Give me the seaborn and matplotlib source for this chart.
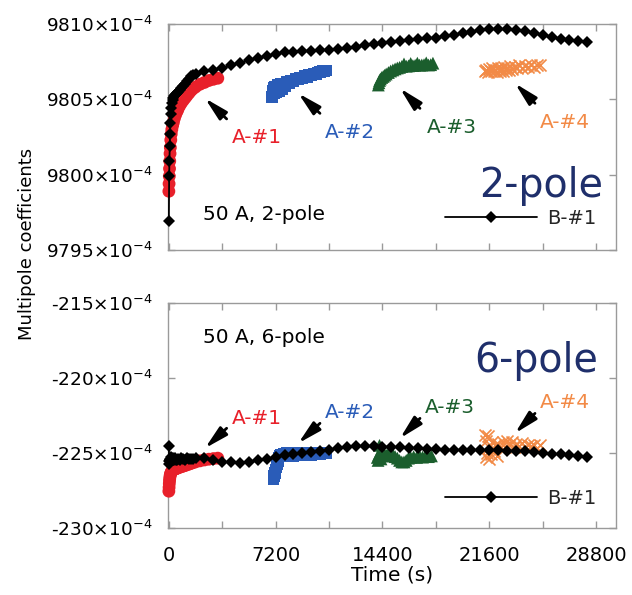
import matplotlib
matplotlib.use("Agg")
import matplotlib.pyplot as plt
import seaborn as sns
from matplotlib.ticker import FixedLocator, FuncFormatter

# ---------------------------------------------------------------- data
# time in seconds, coefficients in units of 1e-4

# reference magnet B-#1, long run
b1_time = [0, 20, 40, 60, 80, 100, 130, 160, 200, 250, 300, 360, 420, 480, 540,
           600, 720, 840, 960, 1080, 1200, 1350, 1500, 1650, 1800, 2400, 3000,
           3600, 4200, 4800, 5400, 6000, 6600, 7200, 7800, 8400, 9000, 9600,
           10200, 10800, 11400, 12000, 12600, 13200, 13800, 14400, 15000,
           15600, 16200, 16800, 17400, 18000, 18600, 19200, 19800, 20400,
           21000, 21600, 22200, 22800, 23400, 24000, 24600, 25200, 25800,
           26400, 27000, 27600, 28200]
b1_dipole = [9796.9, 9799.9, 9800.9, 9801.9, 9802.7, 9803.4, 9804.0, 9804.4,
             9804.75, 9804.95, 9805.08, 9805.2, 9805.28, 9805.35, 9805.42,
             9805.48, 9805.62, 9805.75, 9805.9, 9806.05, 9806.2, 9806.38,
             9806.52, 9806.62, 9806.7, 9806.85, 9806.95, 9807.05, 9807.25,
             9807.42, 9807.6, 9807.74, 9807.88, 9808.02, 9808.12, 9808.16,
             9808.2, 9808.24, 9808.27, 9808.3, 9808.36, 9808.42, 9808.5,
             9808.58, 9808.65, 9808.72, 9808.8, 9808.87, 9808.94, 9809.0,
             9809.05, 9809.1, 9809.2, 9809.3, 9809.38, 9809.48, 9809.58,
             9809.65, 9809.66, 9809.64, 9809.6, 9809.52, 9809.4, 9809.27,
             9809.12, 9809.02, 9808.94, 9808.88, 9808.83]
b1_sextupole = [-224.55, -225.75, -225.55, -225.4, -225.5, -225.45, -225.3,
                -225.45, -225.5, -225.35, -225.45, -225.5, -225.35, -225.45,
                -225.5, -225.4, -225.45, -225.35, -225.4, -225.45, -225.35,
                -225.4, -225.42, -225.38, -225.36, -225.36, -225.5, -225.58,
                -225.62, -225.65, -225.62, -225.5, -225.38, -225.28, -225.16,
                -225.08, -225.02, -224.97, -224.88, -224.8, -224.7, -224.62,
                -224.55, -224.55, -224.57, -224.58, -224.6, -224.62, -224.66,
                -224.7, -224.73, -224.76, -224.78, -224.8, -224.8, -224.8,
                -224.8, -224.82, -224.84, -224.86, -224.88, -224.9, -224.92,
                -224.98, -225.05, -225.1, -225.15, -225.22, -225.3]

# magnet A, runs #1 .. #4
a1_time = [0, 15, 30, 45, 60, 80, 100, 130, 160, 200, 250, 300, 360, 420, 480,
           540, 600, 720, 840, 960, 1080, 1200, 1350, 1500, 1650, 1800, 2100,
           2400, 2700, 3000, 3300]
a1_dipole = [9798.9, 9799.4, 9799.9, 9800.4, 9800.9, 9801.4, 9801.8, 9802.3,
             9802.7, 9803.0, 9803.25, 9803.45, 9803.7, 9803.9, 9804.05,
             9804.2, 9804.3, 9804.55, 9804.75, 9804.92, 9805.07, 9805.22,
             9805.4, 9805.58, 9805.72, 9805.82, 9806.0, 9806.12, 9806.25,
             9806.33, 9806.4]
a1_sextupole = [-227.55, -227.3, -227.05, -226.85, -226.7, -226.55, -226.45,
                -226.35, -226.28, -226.22, -226.17, -226.13, -226.1, -226.07,
                -226.05, -226.02, -226.0, -225.96, -225.92, -225.88, -225.84,
                -225.8, -225.75, -225.7, -225.64, -225.6, -225.53, -225.47,
                -225.42, -225.38, -225.35]

a2_time_dip = [6960, 6990, 7020, 7060, 7100, 7150, 7250, 7350, 7450, 7550,
               7650, 7750, 7850, 7950, 8100, 8250, 8400, 8550, 8700, 8850,
               9000, 9150, 9300, 9450, 9600, 9750, 9900, 10050, 10200, 10350,
               10500, 10620]
a2_dipole = [9805.15, 9805.35, 9805.55, 9805.75, 9805.4, 9805.85, 9805.5,
             9805.95, 9805.55, 9806.0, 9805.7, 9806.05, 9805.85, 9806.15,
             9806.05, 9806.25, 9806.2, 9806.35, 9806.32, 9806.45, 9806.42,
             9806.55, 9806.5, 9806.62, 9806.6, 9806.7, 9806.7, 9806.78,
             9806.8, 9806.86, 9806.88, 9806.92]
a2_time_sext = [7050, 7100, 7150, 7200, 7250, 7300, 7350, 7400, 7450, 7550,
                7650, 7750, 7850, 7950, 8100, 8250, 8400, 8550, 8700, 8850,
                9000, 9150, 9300, 9450, 9600, 9750, 9900, 10050, 10200, 10350,
                10500, 10620]
a2_sextupole = [-226.75, -226.55, -226.35, -226.15, -225.95, -225.75, -225.55,
                -225.35, -225.2, -225.1, -225.25, -225.05, -225.2, -225.0,
                -225.15, -225.0, -225.2, -225.02, -225.15, -225.0, -225.18,
                -225.02, -225.12, -225.0, -225.15, -225.0, -225.1, -224.98,
                -225.08, -224.98, -225.05, -225.0]

a3_time_dip = [14120, 14160, 14200, 14260, 14350, 14450, 14550, 14650, 14800,
               14950, 15100, 15250, 15400, 15550, 15700, 15850, 16000, 16150,
               16300, 16450, 16600, 16750, 16900, 17050, 17200, 17350, 17500,
               17650, 17800]
a3_dipole = [9805.95, 9806.1, 9806.25, 9806.35, 9806.45, 9806.52, 9806.6,
             9806.68, 9806.78, 9806.88, 9806.95, 9807.02, 9807.08, 9807.12,
             9807.18, 9807.35, 9807.2, 9807.22, 9807.38, 9807.24, 9807.26,
             9807.4, 9807.27, 9807.28, 9807.3, 9807.42, 9807.28, 9807.3,
             9807.4]
a3_time_sext = [14050, 14100, 14150, 14200, 14250, 14300, 14400, 14500, 14650,
                14800, 14950, 15100, 15250, 15400, 15550, 15700, 15850, 16000,
                16150, 16300, 16500, 16700, 16900, 17100, 17300, 17500, 17700]
a3_sextupole = [-225.3, -225.5, -225.1, -224.5, -225.0, -225.4, -225.2,
                -225.05, -225.15, -225.05, -225.2, -225.1, -225.25, -225.35,
                -225.5, -225.6, -225.6, -225.5, -225.35, -225.3, -225.25,
                -225.3, -225.22, -225.28, -225.2, -225.25, -225.2]

a4_time_dip = [21300, 21400, 21500, 21600, 21700, 21800, 21900, 22000, 22100,
               22200, 22300, 22400, 22500, 22600, 22700, 22800, 22900, 23000,
               23150, 23300, 23450, 23600, 23800, 24000, 24200, 24400, 24600,
               24800, 25000]
a4_dipole = [9806.85, 9806.95, 9806.8, 9807.0, 9806.85, 9807.05, 9806.9,
             9806.95, 9806.8, 9807.1, 9806.9, 9807.05, 9806.85, 9807.15,
             9806.95, 9807.1, 9806.95, 9807.2, 9807.0, 9807.15, 9807.05,
             9807.25, 9807.1, 9807.2, 9807.15, 9807.3, 9807.15, 9807.25,
             9807.3]
a4_time_sext = [21300, 21350, 21400, 21450, 21500, 21550, 21600, 21700, 21800,
                21900, 22000, 22100, 22200, 22350, 22500, 22650, 22800, 22950,
                23100, 23250, 23400, 23600, 23800, 24000, 24200, 24400, 24600,
                24800, 25000]
a4_sextupole = [-223.8, -225.3, -224.2, -225.0, -223.9, -225.4, -224.6,
                -225.1, -224.3, -224.9, -224.5, -225.2, -224.4, -224.7,
                -224.3, -224.6, -224.2, -224.5, -224.3, -224.6, -224.4,
                -224.55, -224.35, -224.6, -224.45, -224.55, -224.5, -224.65,
                -224.5]

run_labels = ["A-#1", "A-#2", "A-#3", "A-#4"]
run_colors = ["#e8202a", "#2a5cb8", "#1b5e2d", "#f28a46"]

x_ticks = [0, 7200, 14400, 21600, 28800]
x_minor = [3600, 10800, 18000, 25200]
dipole_ticks = [9795, 9800, 9805, 9810]
sextupole_ticks = [-230, -225, -220, -215]

# ---------------------------------------------------------------- style
sns.set_theme(style="white")
plt.rcParams["font.family"] = ["DejaVu Sans"]
plt.rcParams["mathtext.fontset"] = "dejavusans"
spine_gray = "#9a9a9a"

fig = plt.figure(figsize=(6.32, 5.95), dpi=100)
ax_top = fig.add_axes([0.2653, 0.5798, 0.7089, 0.3799])
ax_bot = fig.add_axes([0.2653, 0.1126, 0.7089, 0.3787])


def coeff_label(v, _pos=None):
    return f"{int(round(v))}" + r"$\times$10$^{-4}$"


def style_axes(ax, yticks, show_x):
    ax.set_xlim(-80, 30120)
    ax.set_ylim(yticks[0], yticks[-1])
    ax.xaxis.set_major_locator(FixedLocator(x_ticks))
    ax.xaxis.set_minor_locator(FixedLocator(x_minor))
    ax.yaxis.set_major_locator(FixedLocator(yticks))
    ax.yaxis.set_major_formatter(FuncFormatter(coeff_label))
    for s in ax.spines.values():
        s.set_color(spine_gray)
        s.set_linewidth(1.0)
    ax.tick_params(which="both", direction="in", top=True, right=True,
                   bottom=True, left=True, length=5, width=1.0,
                   color=spine_gray)
    ax.tick_params(axis="y", labelsize=13.3, pad=11, labelcolor="black")
    ax.tick_params(axis="x", labelsize=14, pad=13, labelcolor="black",
                   labelbottom=show_x)
    ax.set_ylabel("")
    ax.set_xlabel("")


def draw_panel(ax, a_series, b_vals, legend_y):
    markers = ["o", "s", "^", "x"]
    sizes = [85, 70, 85, 75]
    for (t, v), c, m, s in zip(a_series, run_colors, markers, sizes):
        if m == "x":
            sns.scatterplot(x=t, y=v, ax=ax, marker=m, s=s, color=c,
                            linewidth=1.2, zorder=3, clip_on=False)
        else:
            sns.scatterplot(x=t, y=v, ax=ax, marker=m, s=s, color=c,
                            edgecolor="none", linewidth=0, zorder=3,
                            clip_on=False)
    sns.lineplot(x=b1_time, y=b_vals, ax=ax, color="black", marker="D",
                 markersize=6.5, markeredgewidth=0, linewidth=1.3,
                 sort=False, estimator=None, zorder=4, label="B-#1",
                 clip_on=False)
    ax.legend(loc="center left", bbox_to_anchor=(0.619, legend_y),
              frameon=False, borderpad=0, borderaxespad=0,
              handlelength=4.74, handletextpad=0.5, fontsize=14,
              numpoints=1)


draw_panel(ax_top,
           [(a1_time, a1_dipole), (a2_time_dip, a2_dipole),
            (a3_time_dip, a3_dipole), (a4_time_dip, a4_dipole)],
           b1_dipole, 0.14)
draw_panel(ax_bot,
           [(a1_time, a1_sextupole), (a2_time_sext, a2_sextupole),
            (a3_time_sext, a3_sextupole), (a4_time_sext, a4_sextupole)],
           b1_sextupole, 0.132)

style_axes(ax_top, dipole_ticks, False)
style_axes(ax_bot, sextupole_ticks, True)

# run labels with pointer arrows
arrow_props = dict(arrowstyle="-|>,head_length=0.7,head_width=0.17",
                   color="black", lw=2.0, shrinkA=0, shrinkB=0,
                   mutation_scale=20)

top_label_pos = [(4234, 9802.08), (10524, 9802.41), (17380, 9802.74),
                 (25018, 9803.12)]
top_arrow_tail = [(3896, 9803.7), (10186, 9804.07), (16928, 9804.4),
                  (24680, 9804.74)]
top_arrow_head = [(2434, 9805.07), (8723, 9805.4), (15580, 9805.73),
                  (23330, 9806.06)]

bot_label_pos = [(4234, -223.08), (10524, -222.7), (17250, -222.36),
                 (25018, -221.99)]
bot_arrow_tail = [(3896, -223.36), (10186, -223.03), (16928, -222.7),
                  (24680, -222.37)]
bot_arrow_head = [(2434, -224.69), (8723, -224.36), (15580, -224.03),
                  (23330, -223.7)]

for ax, lpos, tails, heads in [
        (ax_top, top_label_pos, top_arrow_tail, top_arrow_head),
        (ax_bot, bot_label_pos, bot_arrow_tail, bot_arrow_head)]:
    for lab, c, p, tl, hd in zip(run_labels, run_colors, lpos, tails, heads):
        ax.text(p[0], p[1], lab, color=c, fontsize=14.5, ha="left",
                va="baseline", zorder=6)
        ax.annotate("", xy=hd, xytext=tl, arrowprops=arrow_props, zorder=6)

# panel annotations
ax_top.text(0.0795, 0.133, "50 A, 2-pole", transform=ax_top.transAxes,
            fontsize=14.5, ha="left", va="baseline", color="black")
ax_bot.text(0.0795, 0.822, "50 A, 6-pole", transform=ax_bot.transAxes,
            fontsize=14.5, ha="left", va="baseline", color="black")
ax_top.text(0.972, 0.236, "2-pole", transform=ax_top.transAxes,
            fontsize=28.5, ha="right", va="baseline", color="#1f2f6b")
ax_bot.text(0.961, 0.694, "6-pole", transform=ax_bot.transAxes,
            fontsize=28.5, ha="right", va="baseline", color="#1f2f6b")

ax_bot.set_xlabel("Time (s)", fontsize=14.5, labelpad=0, color="black")
fig.text(27 / 632, 1 - 243.5 / 595, "Multipole coefficients", rotation=90,
         ha="center", va="center", fontsize=13, color="black")

fig.savefig("out.png", dpi=100)
